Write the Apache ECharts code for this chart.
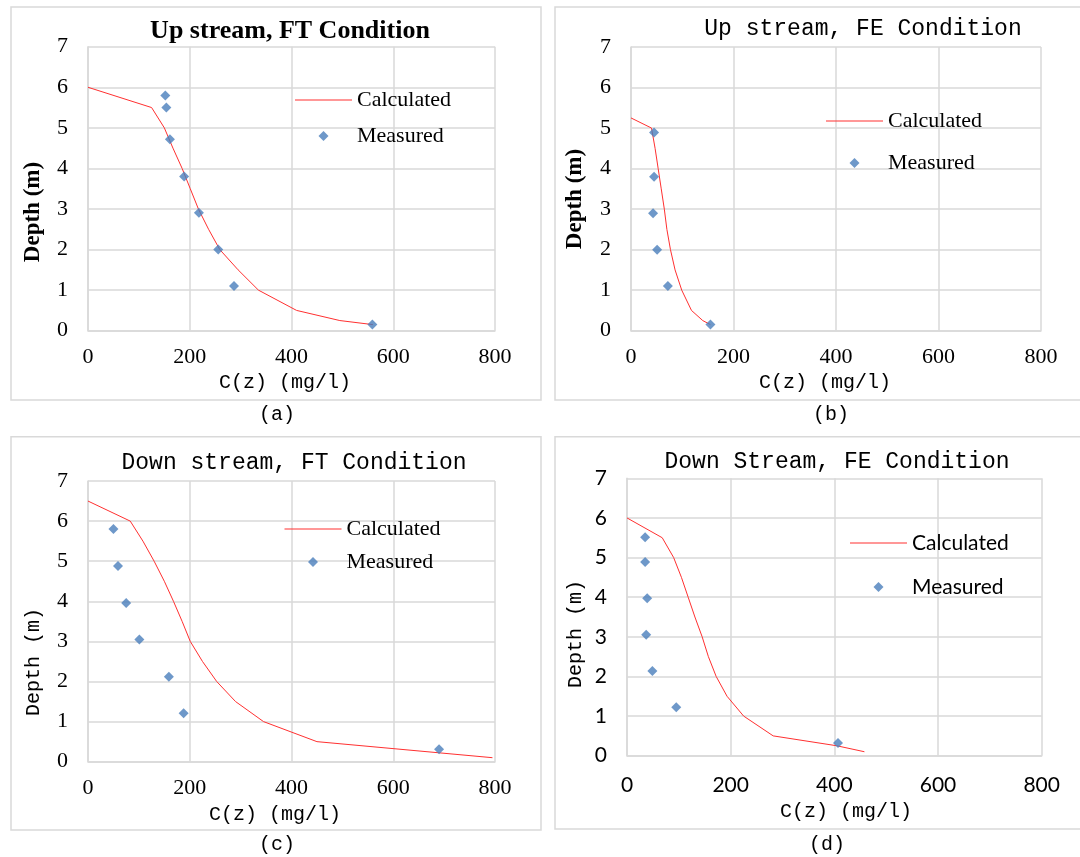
<!DOCTYPE html>
<html><head><meta charset="utf-8">
<script src="https://cdn.jsdelivr.net/npm/echarts@6/dist/echarts.min.js"></script>
<style>html,body{margin:0;padding:0;background:#fff}#c{width:1080px;height:857px}</style>
</head><body><div id="c"></div>
<script>
// ---------- data ----------
const xTickMax = 800, xTickStep = 200, yTickMax = 7, yTickStep = 1;
const seriesNames = ['Calculated', 'Measured'];
const panelTitles = ['Up stream, FT Condition', 'Up stream, FE Condition', 'Down stream, FT Condition', 'Down Stream, FE Condition'];
const xAxisTitle = 'C(z) (mg/l)';
const yAxisTitle = 'Depth (m)';
const captions = ['(a)', '(b)', '(c)', '(d)'];

const aCalcC = [0, 125, 150, 167, 185, 201, 217, 237, 259, 295, 335, 410, 495, 560];
const aCalcZ = [6, 5.5, 5.0, 4.5, 4.0, 3.5, 3.0, 2.5, 2.0, 1.5, 1.0, 0.5, 0.25, 0.15];
const aMeasC = [152, 154, 161, 189, 218, 256, 287, 559];
const aMeasZ = [5.8, 5.5, 4.72, 3.8, 2.91, 2.0, 1.1, 0.15];

const bCalcC = [0, 40, 47, 53, 59, 65, 70, 77, 86, 99, 118, 140, 155];
const bCalcZ = [5.25, 5.0, 4.5, 4.0, 3.5, 3.0, 2.5, 2.0, 1.5, 1.0, 0.5, 0.25, 0.15];
const bMeasC = [45, 45, 43, 51, 72, 155];
const bMeasZ = [4.89, 3.8, 2.9, 2.0, 1.1, 0.15];

const cCalcC = [0, 83, 108, 130, 150, 168, 185, 201, 225, 253, 290, 345, 450, 795];
const cCalcZ = [6.5, 6.0, 5.5, 5.0, 4.5, 4.0, 3.5, 3.0, 2.5, 2.0, 1.5, 1.0, 0.5, 0.1];
const cMeasC = [50, 59, 75, 101, 159, 188, 690];
const cMeasZ = [5.8, 4.88, 3.96, 3.05, 2.12, 1.21, 0.31];

const dCalcC = [0, 68, 90, 105, 118, 131, 145, 157, 172, 193, 225, 282, 405, 458];
const dCalcZ = [6.0, 5.5, 5.0, 4.5, 4.0, 3.5, 3.0, 2.5, 2.0, 1.5, 1.0, 0.5, 0.25, 0.1];
const dMeasC = [35, 35, 39, 37, 49, 95, 407];
const dMeasZ = [5.51, 4.89, 3.97, 3.05, 2.14, 1.22, 0.32];

const panelData = [
  [aCalcC, aCalcZ, aMeasC, aMeasZ],
  [bCalcC, bCalcZ, bMeasC, bMeasZ],
  [cCalcC, cCalcZ, cMeasC, cMeasZ],
  [dCalcC, dCalcZ, dMeasC, dMeasZ]
];

// ---------- layout / style ----------
const SERIF = 'Liberation Serif', MONO = 'Liberation Mono', SANS = 'Lato';
const GRID_C = '#d9d9d9';
const LINE_C = '#ff3030', MARK_C = '#4a7ebb';
const layout = [
  { grid: [88, 46.7, 407, 284], box: [11, 7, 530, 393], tickFont: SERIF, tickSize: 22,
    title: [290, 31, SERIF, 'bold', 26], xname: [285, 383], yname: [33, 212, SERIF, 'bold', 23], cap: [277, 415],
    legend: [295, 88, 12, SERIF, 22] },
  { grid: [631, 47, 410, 283.7], box: [555, 7, 527, 393], tickFont: SERIF, tickSize: 22,
    title: [863, 29, MONO, 'normal', 23], xname: [825, 383], yname: [575, 199, SERIF, 'bold', 23], cap: [831, 415],
    legend: [826, 109, 18, SERIF, 22] },
  { grid: [88, 481, 407, 280.7], box: [11, 436.7, 530, 393.3], tickFont: SERIF, tickSize: 22,
    title: [294, 463, MONO, 'normal', 23], xname: [275, 815], yname: [33.5, 662, MONO, 'normal', 20], cap: [277, 845],
    legend: [284.5, 517, 9, SERIF, 22] },
  { grid: [627, 478.3, 414.7, 277.4], box: [555, 436.7, 527, 392.3], tickFont: SANS, tickSize: 21,
    title: [837, 462, MONO, 'normal', 23], xname: [846, 812], yname: [576, 634, MONO, 'normal', 20], cap: [827, 845],
    legend: [850, 531, 20, SANS, 21] }
];

const zip = (xs, ys) => xs.map((x, i) => [x, ys[i]]);
const legendIcons = ['path://M0,0L57,0L57,1L0,1Z', 'path://M0,-1L1,0L0,1L-1,0Z'];

const grids = [], xAxes = [], yAxes = [], series = [], legends = [], graphics = [];
layout.forEach((L, i) => {
  grids.push({ left: L.grid[0], top: L.grid[1], width: L.grid[2], height: L.grid[3], containLabel: false });
  const lineStyle = { color: GRID_C, width: 1.5 };
  const lab = { color: '#000', fontFamily: L.tickFont, fontSize: L.tickSize };
  xAxes.push({ type: 'value', gridIndex: i, min: 0, max: xTickMax, interval: xTickStep,
    axisLine: { show: true, lineStyle }, axisTick: { show: false },
    splitLine: { show: true, lineStyle }, axisLabel: Object.assign({ margin: i === 3 ? 19 : 16 }, lab) });
  yAxes.push({ type: 'value', gridIndex: i, min: 0, max: yTickMax, interval: yTickStep,
    axisLine: { show: true, lineStyle }, axisTick: { show: false },
    splitLine: { show: true, lineStyle }, axisLabel: Object.assign({ margin: 20 }, lab) });
  const d = panelData[i];
  series.push({ name: seriesNames[0], type: 'line', xAxisIndex: i, yAxisIndex: i, data: zip(d[0], d[1]),
    symbol: 'none', lineStyle: { color: LINE_C, width: 1 }, itemStyle: { color: LINE_C }, animation: false, z: 3 });
  series.push({ name: seriesNames[1], type: 'scatter', xAxisIndex: i, yAxisIndex: i, data: zip(d[2], d[3]),
    symbol: 'diamond', symbolSize: 10, itemStyle: { color: MARK_C }, animation: false, z: 4 });
  legends.push({ orient: 'vertical', left: L.legend[0], top: L.legend[1], padding: 0, itemGap: L.legend[2],
    itemWidth: 57, itemHeight: 10, selectedMode: false,
    data: seriesNames.map((n, k) => ({ name: n, icon: legendIcons[k] })),
    textStyle: { fontFamily: L.legend[3], fontSize: L.legend[4], lineHeight: 24, color: '#000' } });
  graphics.push({ type: 'rect', shape: { x: L.box[0], y: L.box[1], width: L.box[2], height: L.box[3] },
    style: { fill: 'none', stroke: GRID_C, lineWidth: 1.5 }, silent: true });
  graphics.push({ type: 'text', x: L.title[0], y: L.title[1], style: { text: panelTitles[i], textAlign: 'center', textVerticalAlign: 'middle',
    fontFamily: L.title[2], fontWeight: L.title[3], fontSize: L.title[4], fill: '#000' } });
  graphics.push({ type: 'text', x: L.xname[0], y: L.xname[1], style: { text: xAxisTitle, textAlign: 'center', textVerticalAlign: 'middle',
    fontFamily: MONO, fontSize: 20, fill: '#000' } });
  graphics.push({ type: 'text', x: L.yname[0], y: L.yname[1], rotation: Math.PI / 2, style: { text: yAxisTitle, textAlign: 'center', textVerticalAlign: 'middle',
    fontFamily: L.yname[2], fontWeight: L.yname[3], fontSize: L.yname[4], fill: '#000' } });
  graphics.push({ type: 'text', x: L.cap[0], y: L.cap[1], style: { text: captions[i], textAlign: 'center', textVerticalAlign: 'middle',
    fontFamily: MONO, fontSize: 20, fill: '#000' } });
});

const chart = echarts.init(document.getElementById('c'), null, { renderer: 'canvas' });
chart.setOption({
  backgroundColor: '#fff',
  animation: false,
  grid: grids, xAxis: xAxes, yAxis: yAxes, series, legend: legends,
  graphic: { elements: graphics }
});
</script></body></html>
